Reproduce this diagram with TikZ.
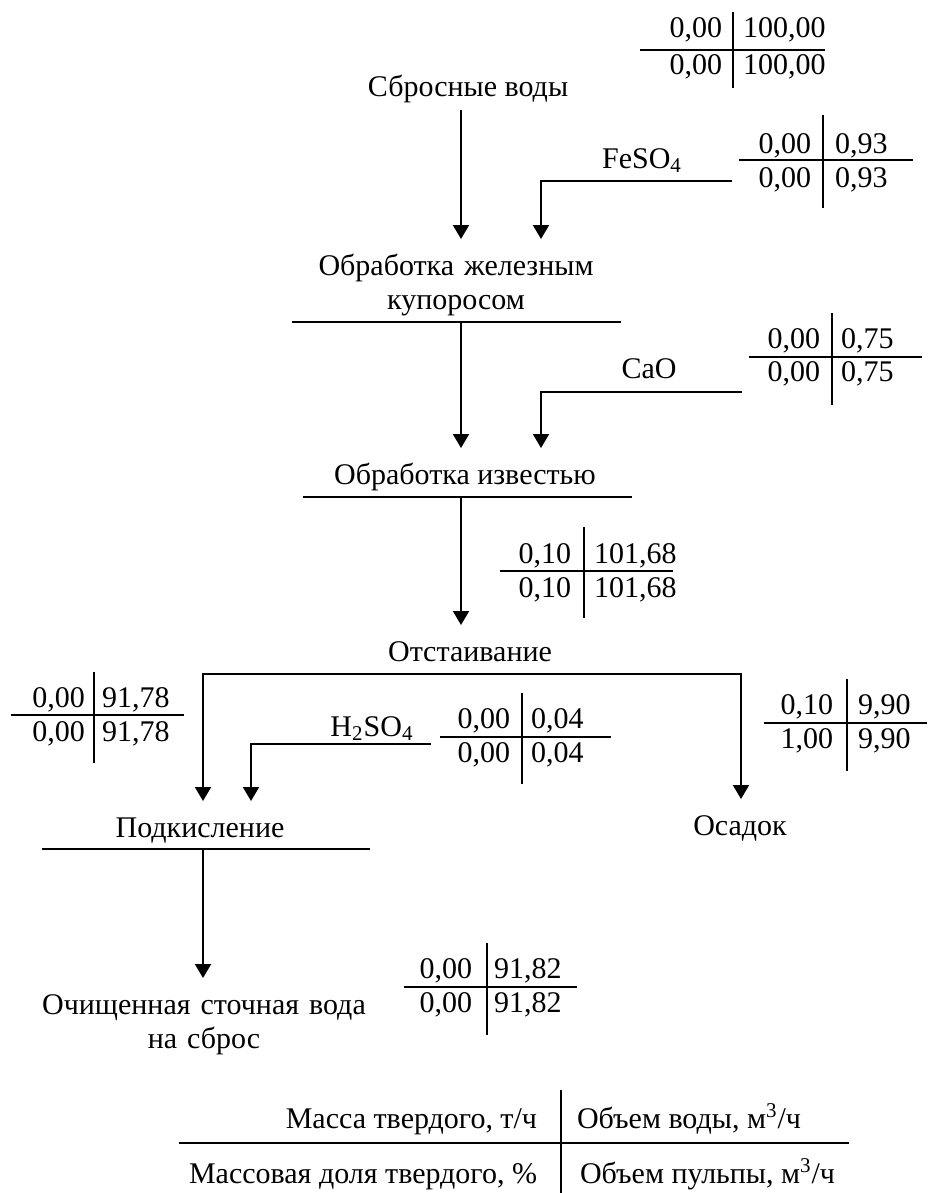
\documentclass[tikz,border=0pt]{standalone}
\usepackage{fontspec}
\setmainfont{Liberation Serif}
\usetikzlibrary{arrows.meta}
\usetikzlibrary{calc}

\tikzset{
	stage/.style={inner sep=0pt, outer ysep=3pt, text height=15pt, text depth=3.5pt, align=center},
	num/.style={inner sep=0pt},
	flow/.style={-{Triangle[length=7pt,width=8pt]}}
}

\begin{document}
\begin{tikzpicture}[x=0.5pt, y=-0.5pt, line width=1pt, font=\fontsize{15}{17}\selectfont]
			\useasboundingbox (0,0) rectangle (927,1193);
			
			% axes of the flows
			\coordinate (m) at (461,0);
			\coordinate (fx) at (541,0);
			\coordinate (lx) at (203,0);
			\coordinate (rx) at (741,0);
			\coordinate (hx) at (251,0);
			
			\begin{scope}[every node/.style={stage, anchor=base}]
			\node (src) at (468,97) {Сбросные воды};
			\node (fe) [text width=165pt] at (456,275) {Обработка железным\\купоросом};
			\node (izv) at (465,484) {Обработка известью};
			\node (otst) at (470,661) {Отстаивание};
			\node (podk) at (200,837) {Подкисление};
			\node (osad) at (740,835) {Осадок};
			\node (fin) [text width=170pt] at (204,1014) {Очищенная сточная вода\\на сброс};
			\end{scope}
			
			\begin{scope}[every node/.style={num, anchor=base}]
			\node (feso) at (642,168) {FeSO\textsubscript{4}};
			\node (cao) at (649,378) {CaO};
			\node (hso) at (372,736) {H\textsubscript{2}SO\textsubscript{4}};
			\end{scope}
			
			\coordinate (fein) at (732,181);
			\coordinate (caoin) at (742,392);
			\coordinate (hsoin) at (431,744);
			
			\draw ($(fe.base) + (-164,47)$) -- ($(fe.base) + (165,47)$);
			\draw ($(izv.base) + (-162,13)$) -- ($(izv.base) + (167,13)$);
			\draw ($(podk.base) + (-158,12)$) -- ($(podk.base) + (170,12)$);
			
			\draw [flow] (src.south -| m) -- (fe.north -| m);
			\draw [flow] ($(fe.base -| m) + (0,47)$) -- (izv.north -| m);
			\draw [flow] ($(izv.base -| m) + (0,13)$) -- (otst.north -| m);
			\draw [flow] (otst.south) -| (podk.north -| lx);
			\draw [flow] (otst.south) -| (osad.north -| rx);
			\draw [flow] ($(podk.base -| lx) + (0,12)$) -- (fin.north -| lx);
			
			\draw [flow] (fein) -| (fe.north -| fx);
			\draw [flow] (caoin) -| (izv.north -| fx);
			\draw [flow] (hsoin) -| (podk.north -| hx);
			
			% balance tables
			\begin{scope}[every node/.style={num}]
			\node (t0a) [anchor=base east] at (723,38) {0,00};
			\node (t0b) [anchor=base west] at (742,38) {100,00};
			\node (t0c) [anchor=base east] at (723,75) {0,00};
			\node (t0d) [anchor=base west] at (742,75) {100,00};
			
			\node (t1a) [anchor=base east] at (812,154) {0,00};
			\node (t1b) [anchor=base west] at (834,154) {0,93};
			\node (t1c) [anchor=base east] at (812,187) {0,00};
			\node (t1d) [anchor=base west] at (834,187) {0,93};
			
			\node (t2a) [anchor=base east] at (821,348) {0,00};
			\node (t2b) [anchor=base west] at (840,348) {0,75};
			\node (t2c) [anchor=base east] at (821,381) {0,00};
			\node (t2d) [anchor=base west] at (840,381) {0,75};
			
			\node (t3a) [anchor=base east] at (572,563) {0,10};
			\node (t3b) [anchor=base west] at (593,563) {101,68};
			\node (t3c) [anchor=base east] at (572,597) {0,10};
			\node (t3d) [anchor=base west] at (593,597) {101,68};
			
			\node (t4a) [anchor=base east] at (86,707) {0,00};
			\node (t4b) [anchor=base west] at (101,707) {91,78};
			\node (t4c) [anchor=base east] at (86,741) {0,00};
			\node (t4d) [anchor=base west] at (101,741) {91,78};
			
			\node (t5a) [anchor=base east] at (511,728) {0,00};
			\node (t5b) [anchor=base west] at (530,728) {0,04};
			\node (t5c) [anchor=base east] at (511,762) {0,00};
			\node (t5d) [anchor=base west] at (530,762) {0,04};
			
			\node (t6a) [anchor=base east] at (834,714) {0,10};
			\node (t6b) [anchor=base west] at (857,714) {9,90};
			\node (t6c) [anchor=base east] at (834,748) {1,00};
			\node (t6d) [anchor=base west] at (857,748) {9,90};
			
			\node (t7a) [anchor=base east] at (473,978) {0,00};
			\node (t7b) [anchor=base west] at (493,978) {91,82};
			\node (t7c) [anchor=base east] at (473,1012) {0,00};
			\node (t7d) [anchor=base west] at (493,1012) {91,82};
			\end{scope}
			
			\draw (733,12) -- (733,88) (640,50) -- (825,50);
			\draw (823,115) -- (823,208) (739,160) -- (913,160);
			\draw (832,313) -- (832,405) (749,357) -- (922,357);
			\draw (584,527) -- (584,618) (500,571) -- (673,571);
			\draw (94,672) -- (94,763) (11,715) -- (184,715);
			\draw (522,693) -- (522,784) (440,737) -- (611,737);
			\draw (847,679) -- (847,771) (764,723) -- (927,723);
			\draw (487,943) -- (487,1035) (404,987) -- (577,987);
			
			% legend
			\begin{scope}[every node/.style={num}]
			\node (lega) [anchor=base east] at (538,1128) {Масса твердого, т/ч};
			\node (legb) [anchor=base west] at (576,1128) {Объем воды, м\textsuperscript{3}/ч};
			\node (legc) [anchor=base east] at (538,1183) {Массовая доля твердого, \%};
			\node (legd) [anchor=base west] at (579,1183) {Объем пульпы, м\textsuperscript{3}/ч};
			\end{scope}
			\draw (561,1090) -- (561,1193) (179,1143) -- (849,1143);
			
\end{tikzpicture}
\end{document}
